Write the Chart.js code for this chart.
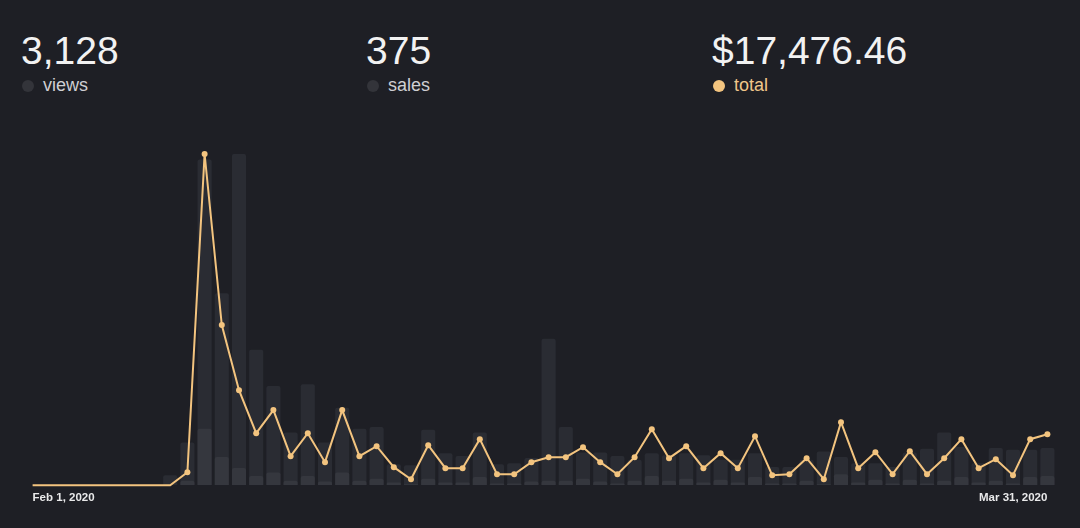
<!DOCTYPE html>
<html>
<head>
<meta charset="utf-8">
<script src="https://cdn.jsdelivr.net/npm/chart.js@4"></script>
<style>
  html, body { margin: 0; padding: 0; background: #1e1f25; }
  body { width: 1080px; height: 528px; position: relative; overflow: hidden; font-family: "Liberation Sans", Arial, sans-serif; }
  .stat { position: absolute; top: 31px; }
  .stat .num { font-size: 39px; line-height: 39px; color: #f2f2f2; margin-left: -1px; }
  .stat .lbl { position: relative; margin-top: 6px; font-size: 18px; line-height: 18px; color: #cfcfd2; padding-left: 21px; }
  .stat .lbl i { position: absolute; left: 0; top: 4px; width: 12px; height: 12px; border-radius: 50%; background: #33343a; }
  .stat.gold .lbl { color: #efc68a; }
  .stat.gold .lbl i { background: #f3c47f; }
  #wrap { position: absolute; left: 0; top: 150px; width: 1080px; height: 361px; }
</style>
</head>
<body>
<div class="stat" style="left:22px"><div class="num">3,128</div><div class="lbl"><i></i>views</div></div>
<div class="stat" style="left:367px"><div class="num">375</div><div class="lbl"><i></i>sales</div></div>
<div class="stat gold" style="left:713px"><div class="num">$17,476.46</div><div class="lbl"><i></i>total</div></div>
<div id="wrap"><canvas id="myChart"></canvas></div>
<script>
const days = [
    'Feb 1, 2020', 'Feb 2, 2020', 'Feb 3, 2020', 'Feb 4, 2020', 'Feb 5, 2020', 'Feb 6, 2020',
    'Feb 7, 2020', 'Feb 8, 2020', 'Feb 9, 2020', 'Feb 10, 2020', 'Feb 11, 2020', 'Feb 12, 2020',
    'Feb 13, 2020', 'Feb 14, 2020', 'Feb 15, 2020', 'Feb 16, 2020', 'Feb 17, 2020', 'Feb 18, 2020',
    'Feb 19, 2020', 'Feb 20, 2020', 'Feb 21, 2020', 'Feb 22, 2020', 'Feb 23, 2020', 'Feb 24, 2020',
    'Feb 25, 2020', 'Feb 26, 2020', 'Feb 27, 2020', 'Feb 28, 2020', 'Feb 29, 2020', 'Mar 1, 2020',
    'Mar 2, 2020', 'Mar 3, 2020', 'Mar 4, 2020', 'Mar 5, 2020', 'Mar 6, 2020', 'Mar 7, 2020',
    'Mar 8, 2020', 'Mar 9, 2020', 'Mar 10, 2020', 'Mar 11, 2020', 'Mar 12, 2020', 'Mar 13, 2020',
    'Mar 14, 2020', 'Mar 15, 2020', 'Mar 16, 2020', 'Mar 17, 2020', 'Mar 18, 2020', 'Mar 19, 2020',
    'Mar 20, 2020', 'Mar 21, 2020', 'Mar 22, 2020', 'Mar 23, 2020', 'Mar 24, 2020', 'Mar 25, 2020',
    'Mar 26, 2020', 'Mar 27, 2020', 'Mar 28, 2020', 'Mar 29, 2020', 'Mar 30, 2020', 'Mar 31, 2020'
];

const views = [
    0, 0, 0, 0, 0, 0, 0, 0, 11, 47,
    358, 211, 364, 149, 109, 58, 111, 47, 85, 62,
    64, 23, 22, 61, 35, 32, 58, 23, 24, 30,
    161, 64, 36, 36, 32, 28, 35, 33, 35, 33,
    28, 28, 35, 20, 20, 28, 37, 31, 24, 24,
    20, 36, 40, 58, 42, 24, 41, 39, 39, 41
];

const sales = [
    0, 0, 0, 0, 0, 0, 0, 0, 0, 5,
    62, 31, 19, 10, 14, 5, 10, 4, 14, 5,
    7, 3, 1, 7, 3, 3, 9, 2, 2, 4,
    5, 5, 7, 4, 2, 5, 10, 5, 7, 3,
    6, 3, 9, 2, 2, 5, 1, 12, 3, 6,
    2, 6, 2, 5, 9, 3, 5, 2, 9, 10
];

const totals = [
    0, 0, 0, 0, 0, 0, 0, 0, 0, 113.5,
    2890.2, 1397.1, 829.4, 454.0, 655.3, 253.2, 454.0, 201.0, 655.3, 253.2,
    340.5, 157.2, 52.4, 349.2, 148.4, 148.4, 401.6, 96.0, 96.0, 201.0,
    244.4, 244.4, 331.7, 201.0, 96.0, 244.4, 488.9, 235.7, 340.5, 148.4,
    279.4, 148.4, 427.8, 87.3, 96.0, 235.7, 52.4, 550.0, 148.4, 288.1,
    96.0, 296.8, 96.0, 235.7, 401.6, 148.4, 227.0, 87.3, 401.6, 445.2
];

const gold = '#f3c47f';
const ctx = document.getElementById('myChart').getContext('2d');

const config = {
    type: 'bar',
    data: {
        labels: days,
        datasets: [{
            type: 'line',
            label: 'total',
            data: totals,
            yAxisID: 'yTotal',
            borderColor: gold,
            backgroundColor: gold,
            borderWidth: 2,
            tension: 0,
            clip: false,
            pointRadius: c => (c.raw === 0 ? 0 : 3),
            pointBorderWidth: 0,
            pointHoverRadius: 0,
            order: 0
        }, {
            label: 'sales',
            data: sales,
            yAxisID: 'yBars',
            backgroundColor: '#35373e',
            barPercentage: 0.82,
            categoryPercentage: 1,
            grouped: false,
            borderRadius: 2,
            order: 1
        }, {
            label: 'views',
            data: views,
            yAxisID: 'yBars',
            backgroundColor: '#2a2c33',
            barPercentage: 0.82,
            categoryPercentage: 1,
            grouped: false,
            borderRadius: 2,
            order: 2
        }]
    },
    options: {
        responsive: true,
        maintainAspectRatio: false,
        animation: false,
        events: [],
        layout: { padding: { top: 4, left: 24, right: 24, bottom: 0 } },
        plugins: {
            legend: { display: false },
            tooltip: { enabled: false }
        },
        scales: {
            x: {
                offset: true,
                grid: { display: false, drawTicks: false },
                border: { display: false },
                ticks: {
                    autoSkip: false,
                    maxRotation: 0,
                    align: 'inner',
                    padding: 6,
                    color: '#e9e9ea',
                    font: { family: '"Liberation Sans", Arial, sans-serif', size: 11.5, weight: 'bold' },
                    callback: function(value, index) {
                        if (index === 0 || index === days.length - 1) return days[index];
                        return '';
                    }
                }
            },
            yBars: {
                display: false,
                min: 0,
                max: Math.max(...views)
            },
            yTotal: {
                display: false,
                min: 0,
                max: Math.max(...totals)
            }
        }
    }
};

const myChart = new Chart(ctx, config);
</script>
</body>
</html>
